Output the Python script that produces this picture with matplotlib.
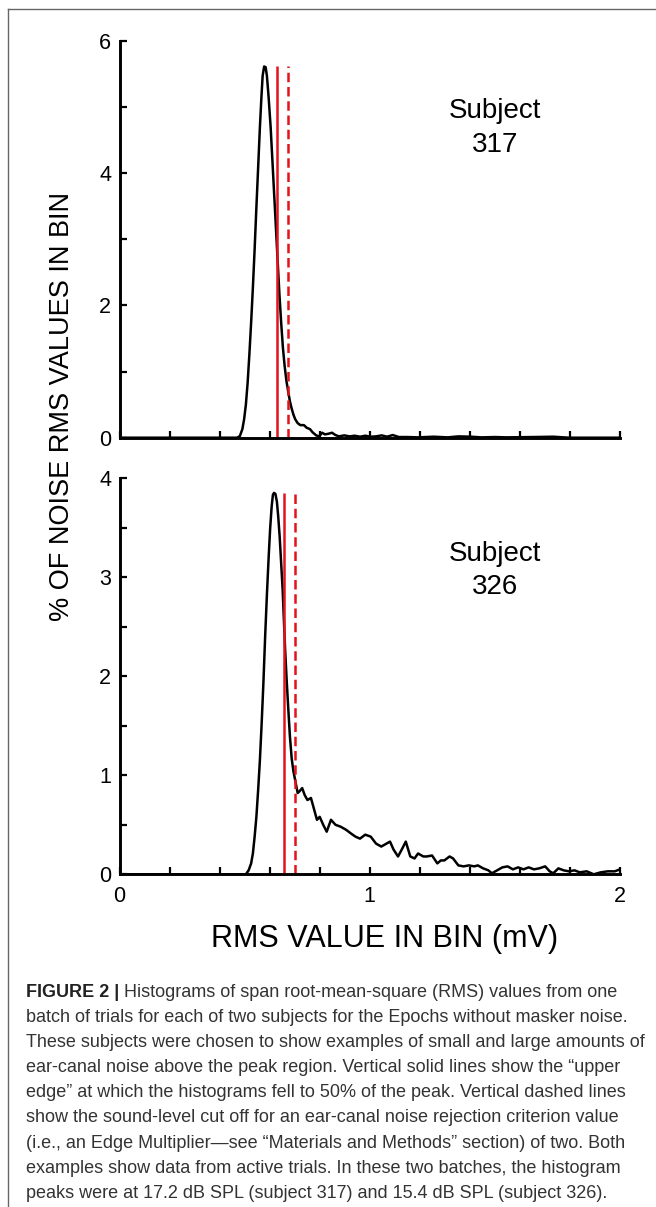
import matplotlib
matplotlib.use('Agg')
import matplotlib.pyplot as plt
from matplotlib.ticker import MultipleLocator, FuncFormatter
from matplotlib.lines import Line2D

# ---------------- data ----------------
x_317 = [0.0, 0.470, 0.481, 0.491, 0.498, 0.505, 0.512, 0.519, 0.526, 0.533, 0.540,
         0.547, 0.554, 0.561, 0.567, 0.572, 0.578, 0.584, 0.589, 0.596, 0.604,
         0.611, 0.618, 0.625, 0.632, 0.639, 0.646, 0.653, 0.660, 0.667, 0.674,
         0.681, 0.688, 0.695, 0.702, 0.712, 0.723, 0.737, 0.748, 0.761, 0.772,
         0.786, 0.797, 0.810, 0.821, 0.835, 0.849, 0.863, 0.877, 0.898, 0.919,
         0.940, 0.961, 0.982, 1.004, 1.025, 1.048, 1.069, 1.092, 1.116, 1.151,
         1.193, 1.256, 1.312, 1.354, 1.404, 1.446, 1.502, 1.544, 1.656, 1.733,
         1.796, 1.895, 2.0]
y_317 = [0.0, 0.0, 0.025, 0.13, 0.28, 0.50, 0.83, 1.26, 1.74, 2.27, 2.85,
         3.48, 4.08, 4.69, 5.14, 5.47, 5.61, 5.60, 5.47, 5.14, 4.69,
         4.19, 3.68, 3.18, 2.67, 2.17, 1.74, 1.36, 1.08, 0.86, 0.70,
         0.55, 0.44, 0.35, 0.28, 0.22, 0.19, 0.19, 0.15, 0.13, 0.08,
         0.035, 0.02, 0.075, 0.05, 0.06, 0.075, 0.04, 0.02, 0.035, 0.02,
         0.03, 0.015, 0.03, 0.015, 0.02, 0.035, 0.015, 0.04, 0.01, 0.01,
         0.005, 0.015, 0.005, 0.02, 0.015, 0.005, 0.01, 0.005, 0.01, 0.015,
         0.0, 0.0, 0.0]

x_326 = [0.0, 0.505, 0.516, 0.526, 0.533, 0.540, 0.547, 0.554, 0.561, 0.568, 0.575,
         0.582, 0.589, 0.596, 0.602, 0.608, 0.613, 0.6175, 0.623, 0.629, 0.634,
         0.640, 0.646, 0.652, 0.657, 0.662, 0.668, 0.674, 0.681, 0.688, 0.695,
         0.702, 0.712, 0.720, 0.730, 0.740, 0.751, 0.765, 0.776, 0.789, 0.800,
         0.814, 0.828, 0.845, 0.863, 0.884, 0.905, 0.926, 0.943, 0.961, 0.982,
         1.004, 1.025, 1.046, 1.060, 1.081, 1.095, 1.113, 1.130, 1.144, 1.162,
         1.179, 1.193, 1.214, 1.228, 1.249, 1.270, 1.284, 1.298, 1.319, 1.333,
         1.354, 1.375, 1.396, 1.418, 1.432, 1.453, 1.474, 1.488, 1.509, 1.530,
         1.551, 1.572, 1.593, 1.614, 1.635, 1.656, 1.677, 1.701, 1.719, 1.733,
         1.754, 1.775, 1.796, 1.818, 1.839, 1.867, 1.895, 1.923, 1.951, 1.979, 2.0]
y_326 = [0.0, 0.0, 0.04, 0.11, 0.21, 0.38, 0.58, 0.85, 1.15, 1.52, 1.93,
         2.40, 2.82, 3.20, 3.49, 3.71, 3.83, 3.85, 3.84, 3.76, 3.62,
         3.41, 3.14, 2.87, 2.56, 2.26, 1.96, 1.69, 1.39, 1.17, 1.04,
         0.95, 0.82, 0.84, 0.87, 0.80, 0.75, 0.77, 0.67, 0.55, 0.58,
         0.50, 0.43, 0.55, 0.50, 0.48, 0.45, 0.41, 0.38, 0.36, 0.40,
         0.38, 0.31, 0.28, 0.30, 0.33, 0.25, 0.18, 0.26, 0.33, 0.18,
         0.16, 0.21, 0.18, 0.18, 0.19, 0.11, 0.14, 0.14, 0.18, 0.16,
         0.09, 0.08, 0.09, 0.08, 0.09, 0.06, 0.04, 0.01, 0.04, 0.07,
         0.08, 0.05, 0.07, 0.05, 0.07, 0.05, 0.06, 0.08, 0.03, 0.01,
         0.06, 0.04, 0.03, 0.04, 0.02, 0.03, 0.0, 0.02, 0.03, 0.03, 0.05]

subjects = ["317", "326"]
edge_vals = [0.629, 0.659]        # solid red lines (50% of peak)
cutoff_vals = [0.675, 0.701]      # dashed red lines (edge multiplier of two)
line_tops = [5.62, 3.85]
y_max = [6, 4]
y_major = [1, 0.5]
y_label_step = [2, 1]
x_ticks_step = 0.2
x_tick_labels = [0, 1, 2]

caption_bold = "FIGURE 2 |"
caption_lines = [
    " Histograms of span root-mean-square (RMS) values from one",
    "batch of trials for each of two subjects for the Epochs without masker noise.",
    "These subjects were chosen to show examples of small and large amounts of",
    "ear-canal noise above the peak region. Vertical solid lines show the \u201cupper",
    "edge\u201d at which the histograms fell to 50% of the peak. Vertical dashed lines",
    "show the sound-level cut off for an ear-canal noise rejection criterion value",
    "(i.e., an Edge Multiplier\u2014see \u201cMaterials and Methods\u201d section) of two. Both",
    "examples show data from active trials. In these two batches, the histogram",
    "peaks were at 17.2 dB SPL (subject 317) and 15.4 dB SPL (subject 326).",
]

# ---------------- figure ----------------
plt.rcParams['font.family'] = ['Liberation Sans', 'DejaVu Sans']
W, H, DPI = 656, 1207, 100
fig = plt.figure(figsize=(W / DPI, H / DPI), dpi=DPI)
fig.patch.set_facecolor('white')

RED = '#e3121b'

def px(x, y):
    return x / W, 1 - y / H

ax_boxes = [
    [119.5 / W, (H - 437.7) / H, 500.5 / W, 397.0 / H],
    [119.5 / W, (H - 874.3) / H, 500.5 / W, 396.3 / H],
]
series = [(x_317, y_317), (x_326, y_326)]
text_y = [(0.806, 0.720), (0.791, 0.707)]

for i, box in enumerate(ax_boxes):
    ax = fig.add_axes(box)
    xs, ys = series[i]
    ax.plot(xs, ys, color='black', lw=1.8, solid_joinstyle='round')
    ax.vlines(edge_vals[i], 0, line_tops[i], color=RED, lw=1.8)
    ax.vlines(cutoff_vals[i], 0, line_tops[i], color=RED, lw=1.8,
              linestyles=(0, (3.8, 1.9)))
    ax.set_xlim(0, 2)
    ax.set_ylim(0, y_max[i])
    for s in ['top', 'right']:
        ax.spines[s].set_visible(False)
    for s in ['left', 'bottom']:
        ax.spines[s].set_linewidth(2.1)
    ax.xaxis.set_major_locator(MultipleLocator(x_ticks_step))
    ax.yaxis.set_major_locator(MultipleLocator(y_major[i]))
    step = y_label_step[i]
    ax.yaxis.set_major_formatter(FuncFormatter(
        lambda v, p, step=step: f"{int(round(v))}" if abs(v / step - round(v / step)) < 1e-6 else ""))
    if i == 1:
        ax.xaxis.set_major_formatter(FuncFormatter(
            lambda v, p: f"{int(round(v))}" if any(abs(v - t) < 1e-6 for t in x_tick_labels) else ""))
    else:
        ax.xaxis.set_major_formatter(FuncFormatter(lambda v, p: ""))
    ax.tick_params(axis='both', direction='in', length=4.8, width=1.6,
                   labelsize=15.5, colors='black')
    ax.tick_params(axis='y', pad=6)
    ax.tick_params(axis='x', pad=8.5)
    ax.text(0.75, text_y[i][0], "Subject", transform=ax.transAxes,
            ha='center', va='baseline', fontsize=20)
    ax.text(0.75, text_y[i][1], subjects[i], transform=ax.transAxes,
            ha='center', va='baseline', fontsize=20)

# axis labels
fig.text(*px(62.5, 406.5), "% OF NOISE RMS VALUES IN BIN", rotation=90,
         ha='center', va='center', fontsize=19.5)
fig.text(*px(384.5, 947), "RMS VALUE IN BIN (mV)", ha='center',
         va='baseline', fontsize=22)

# frame
fig.add_artist(Line2D([8 / W, 8 / W], [1 - 9 / H, 0], transform=fig.transFigure,
                      color='#666666', lw=1.0))
fig.add_artist(Line2D([8 / W, 1], [1 - 9 / H, 1 - 9 / H], transform=fig.transFigure,
                      color='#666666', lw=1.0))

# caption
cap_family = ['Liberation Sans Narrow', 'Liberation Sans', 'DejaVu Sans']
renderer = fig.canvas.get_renderer()
probe = fig.text(0, 0, caption_lines[2], fontsize=12, family=cap_family)
wpx = probe.get_window_extent(renderer).width
probe.remove()
cap_size = 12 * 620.0 / wpx

x0 = 26
base0 = 997
spacing = 25.1
tb = fig.text(*px(x0, base0), caption_bold, fontsize=cap_size, family=cap_family,
              fontweight='bold', va='baseline', ha='left', color='#222222')
bw = tb.get_window_extent(renderer).width
for k, line in enumerate(caption_lines):
    xx = x0 + (bw if k == 0 else 0)
    fig.text(*px(xx, base0 + k * spacing), line, fontsize=cap_size, family=cap_family,
             va='baseline', ha='left', color='#333333')

fig.savefig('out.png', dpi=DPI, facecolor='white')
